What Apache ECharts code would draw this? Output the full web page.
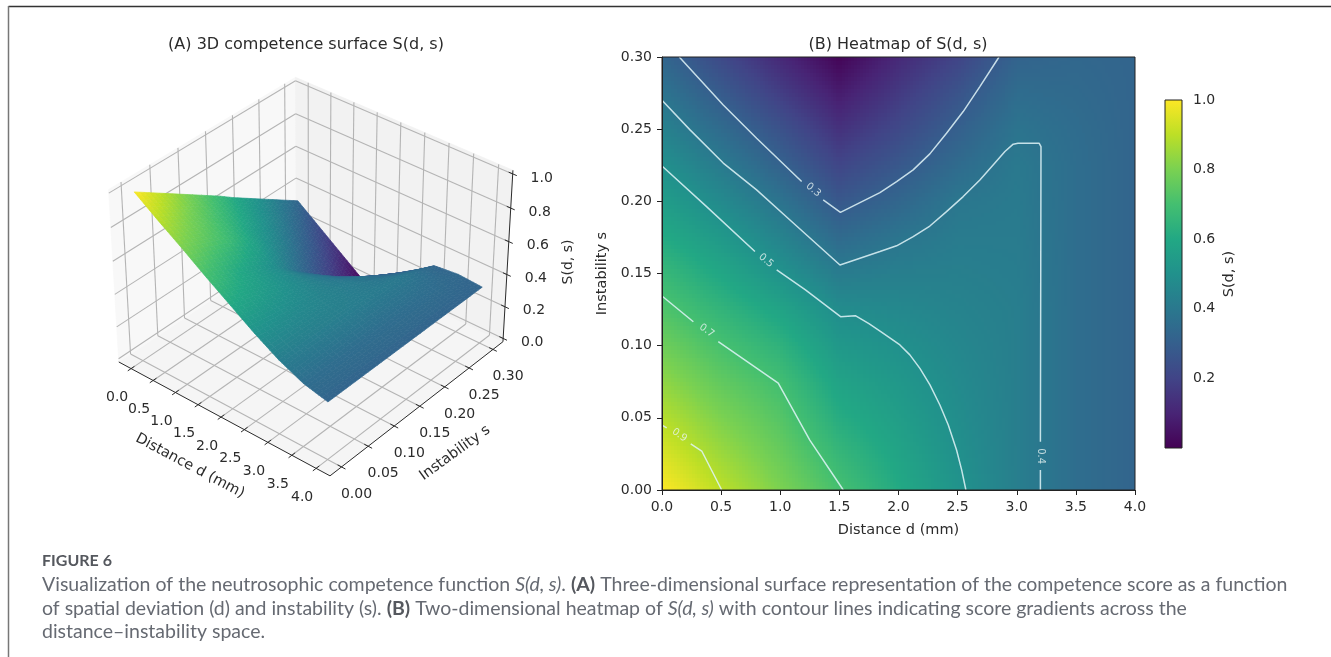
<!DOCTYPE html>
<html><head><meta charset="utf-8">
<style>html,body{margin:0;padding:0;background:#fff}#main{width:1331px;height:657px}</style>
<script src="https://cdn.jsdelivr.net/npm/echarts@6/dist/echarts.min.js"></script>
</head><body><div id="main"></div>
<script>
// ---------- data ----------
const dValues = [0, 0.5, 1, 1.5, 2, 2.5, 3, 3.5, 4];
const sValues = [0, 0.025, 0.05, 0.075, 0.1, 0.125, 0.15, 0.175, 0.2, 0.225, 0.25, 0.275, 0.3];
const S_d00 = [1, 0.945, 0.89, 0.835, 0.78, 0.725, 0.67, 0.61, 0.555, 0.5, 0.445, 0.39, 0.335];
const S_d05 = [0.9, 0.852, 0.805, 0.757, 0.709, 0.655, 0.597, 0.538, 0.476, 0.417, 0.355, 0.293, 0.23];
const S_d10 = [0.805, 0.77, 0.735, 0.698, 0.645, 0.585, 0.512, 0.45, 0.387, 0.32, 0.26, 0.19, 0.125];
const S_d15 = [0.705, 0.665, 0.62, 0.58, 0.535, 0.487, 0.42, 0.35, 0.28, 0.215, 0.15, 0.085, 0.02];
const S_d20 = [0.61, 0.585, 0.56, 0.533, 0.503, 0.47, 0.433, 0.392, 0.335, 0.28, 0.225, 0.175, 0.125];
const S_d25 = [0.515, 0.502, 0.49, 0.478, 0.465, 0.45, 0.435, 0.42, 0.4, 0.355, 0.31, 0.265, 0.21];
const S_d30 = [0.43, 0.43, 0.43, 0.43, 0.43, 0.43, 0.425, 0.42, 0.415, 0.41, 0.39, 0.36, 0.325];
const S_d35 = [0.365, 0.365, 0.365, 0.365, 0.365, 0.365, 0.365, 0.365, 0.365, 0.365, 0.36, 0.35, 0.34];
const S_d40 = [0.33, 0.33, 0.33, 0.33, 0.33, 0.33, 0.33, 0.33, 0.33, 0.33, 0.33, 0.33, 0.33];
const scoreColumns = [S_d00, S_d05, S_d10, S_d15, S_d20, S_d25, S_d30, S_d35, S_d40];

const dTicks = [0, 0.5, 1, 1.5, 2, 2.5, 3, 3.5, 4];
const sTicks = [0, 0.05, 0.1, 0.15, 0.2, 0.25, 0.3];
const zTicks = [0, 0.2, 0.4, 0.6, 0.8, 1];
const barTicks = [0.2, 0.4, 0.6, 0.8, 1];

const contour09a = [[0,0.045],[0.04,0.043]];
const contour09b = [[0.243,0.032],[0.336,0.027],[0.505,0]];
const contour07a = [[0,0.1344],[0.265,0.1166]];
const contour07b = [[0.476,0.1028],[0.983,0.074],[1.25,0.0346],[1.533,0]];
const contour05a = [[0,0.2245],[0.377,0.1963],[0.786,0.1652]];
const contour05b = [[0.97,0.1525],[1.213,0.1386],[1.51,0.1201],[1.635,0.1208],[1.75,0.1152],[1.85,0.1097],[1.945,0.1044],[2.012,0.1005],[2.096,0.0936],[2.181,0.0843],[2.266,0.0728],[2.35,0.0589],[2.421,0.045],[2.491,0.0277],[2.534,0.0139],[2.57,0]];
const contour04a = [[0,0.27],[0.237,0.2495],[0.518,0.2265],[0.8,0.2079],[1.082,0.1871],[1.505,0.1559],[1.843,0.1652],[1.984,0.1692],[2.124,0.1755],[2.265,0.1829],[2.406,0.1929],[2.547,0.2033],[2.688,0.2148],[2.8,0.2252],[2.9,0.2345],[2.97,0.2396],[3.01,0.2402],[3.19,0.2402],[3.205,0.2379],[3.2,0.0335]];
const contour04b = [[3.2,0.0139],[3.2,0]];
const contour03a = [[0.146,0.3],[0.518,0.2668],[0.8,0.2437],[1.181,0.2137]];
const contour03b = [[1.363,0.201],[1.509,0.1924],[1.843,0.206],[1.984,0.2137],[2.124,0.2218],[2.265,0.2329],[2.406,0.2472],[2.547,0.2622],[2.688,0.2795],[2.85,0.3]];
const contours = [contour09a,contour09b,contour07a,contour07b,contour05a,contour05b,contour04a,contour04b,contour03a,contour03b];
const contourLabels = [
  {value:[0.147,0.038], text:'0.9', rotate:-35},
  {value:[0.378,0.1104], text:'0.7', rotate:-35},
  {value:[0.88,0.159], text:'0.5', rotate:-40},
  {value:[3.2,0.0235], text:'0.4', rotate:-90},
  {value:[1.28,0.2079], text:'0.3', rotate:-40}
];

// ---------- look ----------
const viridis = ['#440154','#482475','#414487','#355f8d','#2a788e','#21918c','#22a884','#44bf70','#7ad151','#bddf26','#fde725'];
const viridisRGB = viridis.map(h => [1,3,5].map(i => parseInt(h.substr(i,2),16)));
function colorOf(v){
  const t = Math.max(0, Math.min(1, (v-0.01)/0.99))*10, i = Math.min(9, Math.floor(t)), f = t-i;
  const c = viridisRGB[i].map((a,k)=>Math.round(a+(viridisRGB[i+1][k]-a)*f));
  return 'rgb('+c.join(',')+')';
}
const bil = (a,b,c,e,u,v)=>a*(1-u)*(1-v)+b*u*(1-v)+c*(1-u)*v+e*u*v;
const FONT = '"DejaVu Sans"', INK = '#2b2b2b';

// ---------- 3D projection (perspective camera, same idea as a matplotlib 3D axes) ----------
const CAM = {elev:35, azim:-50, dist:10, scale:235, cx:312, cy:268};
const LIM = {d:[-0.283,4.283], s:[-0.02125,0.32125], z:[-0.0208,1.0208]};
const el = CAM.elev*Math.PI/180, az = CAM.azim*Math.PI/180;
const nV=[Math.cos(el)*Math.cos(az),Math.cos(el)*Math.sin(az),Math.sin(el)];
const rV=[-Math.sin(az),Math.cos(az),0];
const uV=[-Math.sin(el)*Math.cos(az),-Math.sin(el)*Math.sin(az),Math.cos(el)];
const dot=(a,b)=>a[0]*b[0]+a[1]*b[1]+a[2]*b[2];
function proj(d,s,z){
  const k=1.905/6.403;
  const p=[((d-LIM.d[0])/(LIM.d[1]-LIM.d[0])-.5)*4*k,((s-LIM.s[0])/(LIM.s[1]-LIM.s[0])-.5)*4*k,((z-LIM.z[0])/(LIM.z[1]-LIM.z[0])-.5)*3*k];
  const depth=CAM.dist-dot(p,nV), f=CAM.dist/depth;
  return [CAM.cx+CAM.scale*f*dot(p,rV), CAM.cy-CAM.scale*f*dot(p,uV)];
}
const [d0,d1]=LIM.d,[s0,s1]=LIM.s,[z0,z1]=LIM.z;
const poly=(pts,fill)=>({type:'polygon',shape:{points:pts.map(p=>proj(...p))},style:{fill,stroke:fill,lineWidth:.7}});
const seg=(a,b,stroke,w)=>{const A=proj(...a),B=proj(...b);return {type:'line',shape:{x1:A[0],y1:A[1],x2:B[0],y2:B[1]},style:{stroke,lineWidth:w}}};
const txt=(text,x,y,size,rot)=>({type:'text',x,y,rotation:(rot||0)*Math.PI/180,style:{text,fill:INK,font:size+'px '+FONT,align:'center',verticalAlign:'middle'}});

function renderBox(){
  const GRID='#b4b4b4', c=[];
  c.push(poly([[d0,s0,z0],[d0,s1,z0],[d1,s1,z0],[d1,s0,z0]],'#f5f5f5'));
  c.push(poly([[d0,s0,z0],[d0,s1,z0],[d0,s1,z1],[d0,s0,z1]],'#f8f8f8'));
  c.push(poly([[d0,s1,z0],[d1,s1,z0],[d1,s1,z1],[d0,s1,z1]],'#f2f2f2'));
  dTicks.forEach(d=>{c.push(seg([d,s0,z0],[d,s1,z0],GRID,1.1));c.push(seg([d,s1,z0],[d,s1,z1],GRID,1.1));});
  sTicks.forEach(s=>{c.push(seg([d0,s,z0],[d1,s,z0],GRID,1.1));c.push(seg([d0,s,z0],[d0,s,z1],GRID,1.1));});
  zTicks.forEach(z=>{c.push(seg([d0,s0,z],[d0,s1,z],GRID,1.1));c.push(seg([d0,s1,z],[d1,s1,z],GRID,1.1));});
  // axes
  c.push(seg([d0,s0,z0],[d1,s0,z0],INK,1));
  c.push(seg([d1,s0,z0],[d1,s1,z0],INK,1));
  c.push(seg([d1,s1,z0],[d1,s1,z1],INK,1));
  dTicks.forEach(d=>{c.push(seg([d,s0-0.006,z0],[d,s0+0.006,z0],INK,1));
    const p=proj(d,s0,z0);c.push(txt(d.toFixed(1),p[0]-14,p[1]+29,14));});
  sTicks.forEach(s=>{c.push(seg([d1-0.08,s,z0],[d1+0.08,s,z0],INK,1));
    const p=proj(d1,s,z0);c.push(txt(s.toFixed(2),p[0]+15,p[1]+27,14));});
  zTicks.forEach(z=>{c.push(seg([d1-0.08,s1,z],[d1+0.08,s1,z],INK,1));
    const p=proj(d1,s1,z);c.push(txt(z.toFixed(1),p[0]+29,p[1]+4,14));});
  c.push(txt('Distance d (mm)',190,466,14.5,-28));
  c.push(txt('Instability s',455,453,14.5,36));
  c.push(txt('S(d, s)',568,262,14,90));
  return {type:'group',children:c};
}

// cells ordered far to near, so later cells paint over earlier ones
const surfaceCells=[];
for(let i=0;i<dValues.length-1;i++)for(let j=sValues.length-2;j>=0;j--)surfaceCells.push([i,j]);
function renderSurfaceCell(params,api){
  const i=api.value(0),j=api.value(1),NU=8,NV=3,c=[];
  const Z=scoreColumns,a=Z[i][j],b=Z[i+1][j],e=Z[i][j+1],f=Z[i+1][j+1];
  const dA=dValues[i],dB=dValues[i+1],sA=sValues[j],sB=sValues[j+1];
  const P=(u,v)=>[dA+(dB-dA)*u,sA+(sB-sA)*v,bil(a,b,e,f,u,v)];
  for(let u=0;u<NU;u++)for(let v=NV-1;v>=0;v--){
    const U0=u/NU,U1=(u+1)/NU,V0=v/NV,V1=(v+1)/NV;
    c.push(poly([P(U0,V0),P(U1,V0),P(U1,V1),P(U0,V1)],colorOf(bil(a,b,e,f,(U0+U1)/2,(V0+V1)/2))));
  }
  return {type:'group',children:c};
}

// heatmap cells, painted with smooth shading inside each read-off cell
const heatCells=[];
for(let i=0;i<dValues.length-1;i++)for(let j=0;j<sValues.length-1;j++)
  heatCells.push([dValues[i],sValues[j],dValues[i+1],sValues[j+1],scoreColumns[i][j],scoreColumns[i+1][j],scoreColumns[i][j+1],scoreColumns[i+1][j+1]]);
function renderHeatCell(params,api){
  const v=k=>api.value(k),NU=20,NV=9,c=[];
  const A=api.coord([v(0),v(1)]),B=api.coord([v(2),v(3)]),w=(B[0]-A[0])/NU,h=(A[1]-B[1])/NV;
  for(let u=0;u<NU;u++)for(let q=0;q<NV;q++){
    const x0=Math.round(A[0]+u*w),x1=Math.round(A[0]+(u+1)*w),y0=Math.round(A[1]-(q+1)*h),y1=Math.round(A[1]-q*h);
    c.push({type:'rect',shape:{x:x0,y:y0,width:x1-x0,height:y1-y0},
      style:{fill:colorOf(bil(v(4),v(5),v(6),v(7),(u+.5)/NU,(q+.5)/NV))}});
  }
  return {type:'group',children:c};
}
function renderFrame(params,api){
  const A=api.coord([0,0]),B=api.coord([4,0.3]);
  return {type:'rect',shape:{x:A[0],y:B[1],width:B[0]-A[0],height:A[1]-B[1]},style:{fill:'none',stroke:'#222',lineWidth:1}};
}
function renderBar(params,api){
  const A=api.coord([0,0]),B=api.coord([1,1]);
  return {type:'rect',shape:{x:A[0],y:B[1],width:B[0]-A[0],height:A[1]-B[1]},
    style:{stroke:'#222',lineWidth:1,fill:new echarts.graphic.LinearGradient(0,1,0,0,viridis.map((color,i)=>({offset:i/10,color})))}};
}

const axisStyle={color:INK,fontFamily:FONT,fontSize:14};
const nameStyle={color:INK,fontFamily:FONT,fontSize:14.5};
const contourSeries=contours.map(data=>({type:'line',data,xAxisIndex:0,yAxisIndex:0,symbol:'none',smooth:false,silent:true,z:4,
  lineStyle:{color:'rgba(225,245,248,0.85)',width:1.5},animation:false}));

const capFont='"Lato"',capCol='#666a72',capSize=19.5;
const capRich={i:{fontStyle:'italic',fontSize:capSize,fontFamily:capFont,fill:capCol},b:{fontWeight:'bold',fontSize:capSize,fontFamily:capFont,fill:'#55585e'}};
const capText=(y,text)=>({type:'text',x:42,y,style:{text,fill:capCol,font:capSize+'px '+capFont,verticalAlign:'middle',rich:capRich}});
const chart=echarts.init(document.getElementById('main'),null,{renderer:'canvas'});
chart.setOption({
  animation:false,backgroundColor:'#fff',
  title:[
    {text:'(A) 3D competence surface S(d, s)',left:301,top:32,textAlign:'center',textStyle:{color:INK,fontFamily:FONT,fontSize:16,fontWeight:'normal'}},
    {text:'(B) Heatmap of S(d, s)',left:893,top:32,textAlign:'center',textStyle:{color:INK,fontFamily:FONT,fontSize:16,fontWeight:'normal'}}
  ],
  grid:[
    {left:662,top:57,width:473,height:433},
    {left:1165,top:100,width:17,height:348}
  ],
  xAxis:[
    {gridIndex:0,type:'value',min:0,max:4,interval:0.5,z:5,name:'Distance d (mm)',nameLocation:'middle',nameGap:33,nameTextStyle:nameStyle,
      axisLine:{onZero:false,lineStyle:{color:'#222'}},axisTick:{length:5,lineStyle:{color:'#222'}},splitLine:{show:false},
      axisLabel:{...axisStyle,margin:10,formatter:v=>v.toFixed(1)}},
    {gridIndex:1,type:'value',min:0,max:1,show:false}
  ],
  yAxis:[
    {gridIndex:0,type:'value',min:0,max:0.3,interval:0.05,z:5,name:'Instability s',nameLocation:'middle',nameGap:52,nameTextStyle:nameStyle,
      axisLine:{onZero:false,lineStyle:{color:'#222'}},axisTick:{length:5,lineStyle:{color:'#222'}},splitLine:{show:false},
      axisLabel:{...axisStyle,margin:10,formatter:v=>v.toFixed(2)}},
    {gridIndex:1,type:'value',min:0,max:1,position:'right',name:'S(d, s)',nameLocation:'middle',nameGap:40,nameRotate:90,nameTextStyle:nameStyle,
      axisLine:{show:false},splitLine:{show:false},
      axisTick:{length:5,customValues:barTicks,lineStyle:{color:'#222'}},
      axisLabel:{...axisStyle,margin:11,customValues:barTicks,formatter:v=>v.toFixed(1)}}
  ],
  series:[
    {type:'custom',name:'3D box',coordinateSystem:'none',silent:true,data:[0],renderItem:renderBox,z:1},
    {type:'custom',name:'3D surface',coordinateSystem:'none',silent:true,data:surfaceCells,renderItem:renderSurfaceCell,z:2},
    {type:'custom',name:'Heatmap',xAxisIndex:0,yAxisIndex:0,silent:true,data:heatCells,renderItem:renderHeatCell,encode:{x:0,y:1},clip:true,z:2},
    ...contourSeries,
    {type:'scatter',xAxisIndex:0,yAxisIndex:0,symbolSize:0,silent:true,z:4,
      data:contourLabels.map(o=>({value:o.value,label:{show:true,position:'inside',formatter:o.text,rotate:o.rotate,color:'#e8f4f2',fontSize:10,fontFamily:FONT}}))},
    {type:'custom',name:'Frame',xAxisIndex:0,yAxisIndex:0,silent:true,data:[[0,0]],renderItem:renderFrame,encode:{x:0,y:1},z:6},
    {type:'custom',name:'Colour bar',xAxisIndex:1,yAxisIndex:1,silent:true,data:[[0,0]],renderItem:renderBar,encode:{x:0,y:1},z:2}
  ],
  graphic:[
    {type:'line',shape:{x1:8.5,y1:6.5,x2:1331,y2:6.5},style:{stroke:'#333',lineWidth:1.5}},
    {type:'line',shape:{x1:8.5,y1:6,x2:8.5,y2:657},style:{stroke:'#777',lineWidth:1.5}},
    {type:'text',x:42,y:561,style:{text:'FIGURE 6',fill:'#55585e',font:'bold 16px '+capFont,verticalAlign:'middle'}},
    capText(585,'Visualization of the neutrosophic competence function {i|S(d, s)}. {b|(A)} Three-dimensional surface representation of the competence score as a function'),
    capText(608.5,'of spatial deviation (d) and instability (s). {b|(B)} Two-dimensional heatmap of {i|S(d, s)} with contour lines indicating score gradients across the'),
    capText(632,'distance\u2013instability space.')
  ]
});
</script></body></html>
